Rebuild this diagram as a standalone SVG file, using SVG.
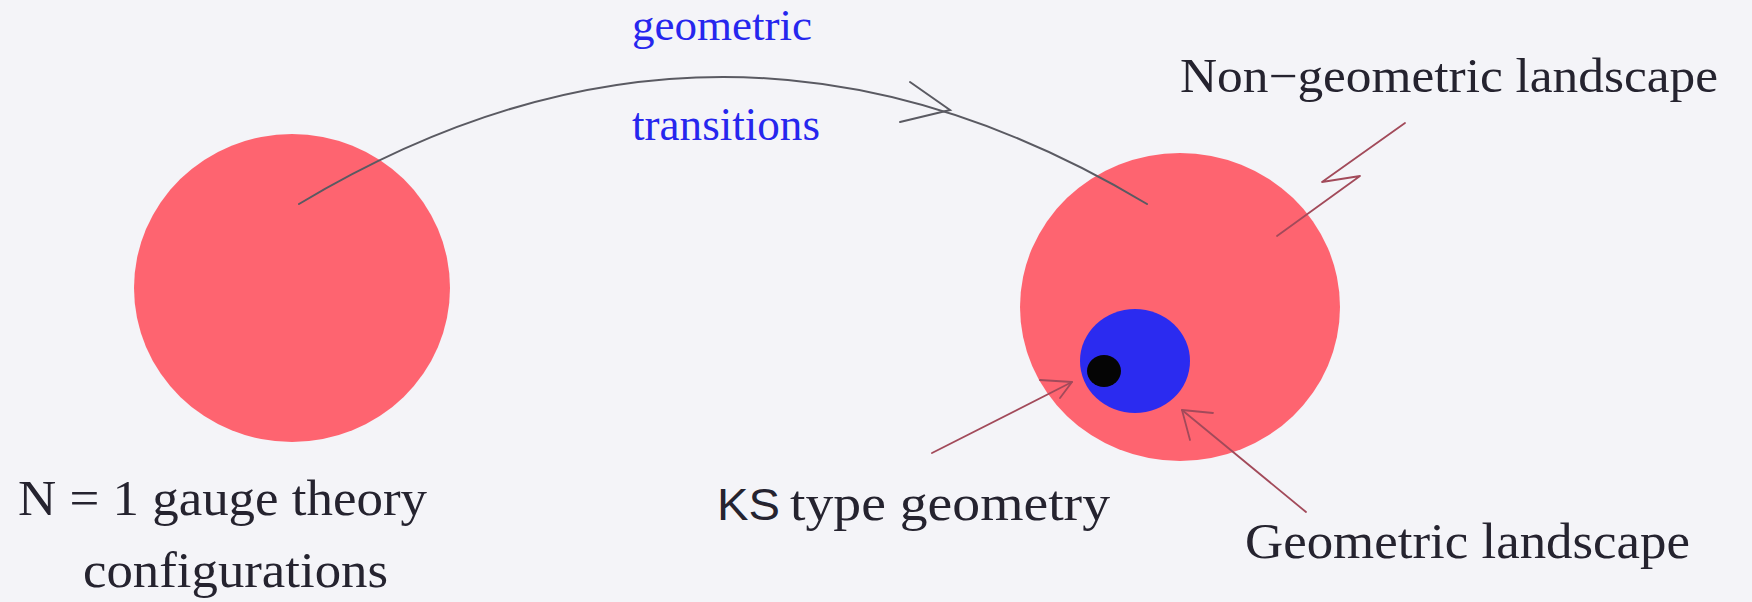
<svg xmlns="http://www.w3.org/2000/svg" width="1752" height="602" viewBox="0 0 1752 602">
<style>
.red{fill:#fe6470}
.lbl{font-family:"Liberation Serif","Times New Roman",serif;fill:#25232f}
.blue{font-family:"Liberation Serif","Times New Roman",serif;fill:#2626ee}
.sans{font-family:"Liberation Sans",Arial,sans-serif;fill:#25232f}
.curve{fill:none;stroke:#5a5a62;stroke-width:2;stroke-linecap:round}
.ptr{fill:none;stroke:#a24a5a;stroke-width:1.8;stroke-linecap:round;stroke-linejoin:round}
</style>
<rect x="0" y="0" width="1752" height="602" fill="#f4f4f8"/>
<g id="left-region">
<ellipse class="red" cx="292" cy="288" rx="158" ry="154"/>
</g>
<g id="right-region">
<ellipse class="red" cx="1180" cy="307" rx="160" ry="154"/>
</g>
<g id="geometric-landscape">
<ellipse cx="1135" cy="361" rx="55" ry="52" fill="#2b2bf0"/>
</g>
<g id="ks-point">
<ellipse cx="1104" cy="371" rx="17" ry="16" fill="#050505"/>
</g>
<g id="connectors">
<path class="curve" d="M299,204 Q723,-50 1147,204"/>
<path class="curve" d="M910,82 L950,110 L900,122"/>
<path class="ptr" d="M1405,123 L1322,182 L1360,176 L1277,236" stroke="#7a5566"/>
<path class="ptr" d="M932,453 L1072,382"/>
<path class="ptr" d="M1040,380 L1072,382 L1060,398"/>
<path class="ptr" d="M1306,512 L1182,410"/>
<path class="ptr" d="M1213,413 L1182,410 L1190,440"/>
</g>
<g id="labels">
<text class="blue" x="632" y="40" font-size="44" textLength="180" lengthAdjust="spacingAndGlyphs">geometric</text>
<text class="blue" x="632" y="140" font-size="46" textLength="188" lengthAdjust="spacingAndGlyphs">transitions</text>
<text class="lbl" x="1180" y="92" font-size="48" textLength="538" lengthAdjust="spacingAndGlyphs">Non−geometric landscape</text>
<text class="lbl" x="18" y="515" font-size="50" textLength="409" lengthAdjust="spacingAndGlyphs">N = 1 gauge theory</text>
<text class="lbl" x="83" y="587" font-size="50" textLength="305" lengthAdjust="spacingAndGlyphs">configurations</text>
<text class="sans" x="717" y="520" font-size="44" textLength="63" lengthAdjust="spacingAndGlyphs">KS</text>
<text class="lbl" x="790" y="520" font-size="50" textLength="320" lengthAdjust="spacingAndGlyphs">type geometry</text>
<text class="lbl" x="1245" y="558" font-size="50" textLength="445" lengthAdjust="spacingAndGlyphs">Geometric landscape</text>
</g>
</svg>
